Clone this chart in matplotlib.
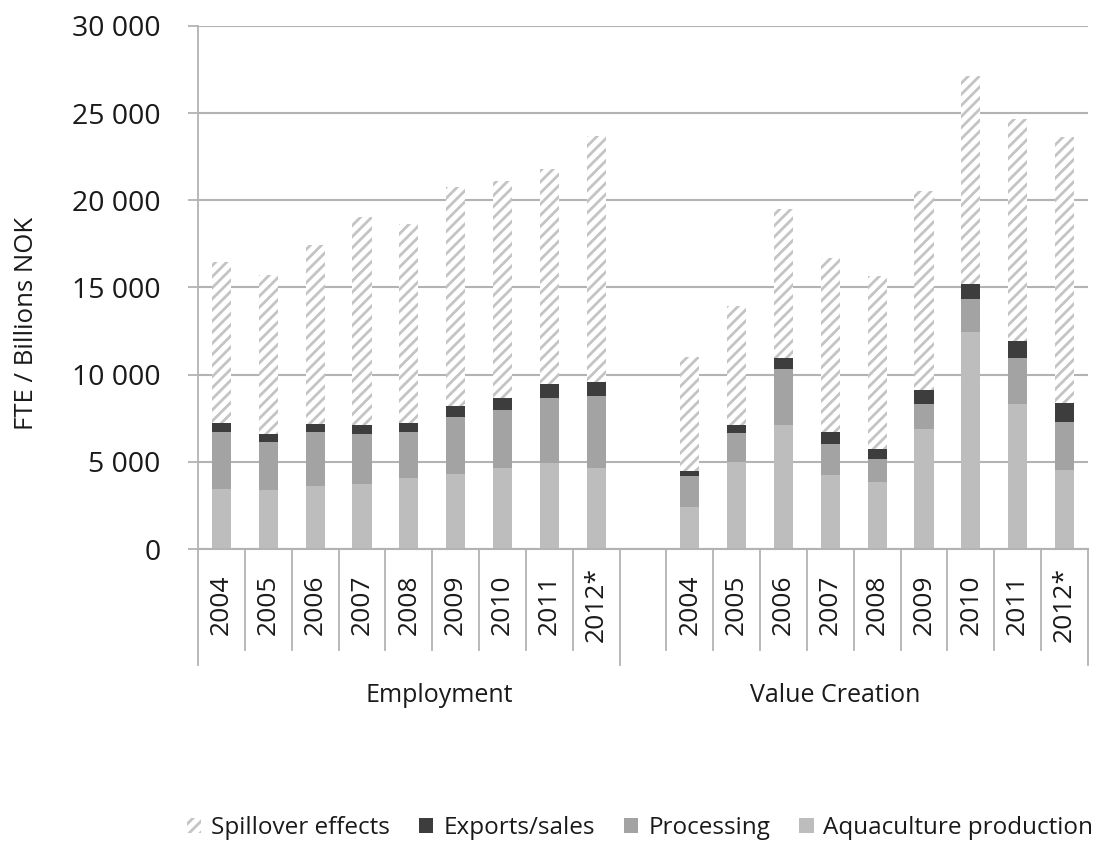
import matplotlib
matplotlib.use('Agg')
import matplotlib.pyplot as plt
import matplotlib.transforms as mtransforms
from matplotlib.patches import Patch

plt.rcParams['font.family'] = ['Open Sans', 'DejaVu Sans']
plt.rcParams['hatch.linewidth'] = 2.0

years = ['2004', '2005', '2006', '2007', '2008', '2009', '2010', '2011', '2012*']
groups = ['Employment', 'Value Creation']
series = ['Spillover effects', 'Exports/sales', 'Processing', 'Aquaculture production']

# Employment (FTE)
emp_aqua = [3470, 3400, 3590, 3720, 4050, 4280, 4640, 4920, 4640]
emp_proc = [3250, 2760, 3130, 2880, 2670, 3320, 3340, 3760, 4160]
emp_exp = [480, 440, 460, 500, 530, 590, 680, 810, 780]
emp_spill = [9260, 9100, 10260, 11960, 11390, 12560, 12450, 12290, 14130]

# Value creation (NOK)
val_aqua = [2420, 4980, 7100, 4260, 3820, 6910, 12450, 8340, 4520]
val_proc = [1740, 1660, 3240, 1750, 1370, 1430, 1910, 2600, 2770]
val_exp = [330, 460, 640, 710, 570, 800, 860, 990, 1070]
val_spill = [6540, 6840, 8540, 9950, 9900, 11410, 11920, 12730, 15270]

c_aqua = '#bdbdbd'
c_proc = '#a3a3a3'
c_exp = '#3d3d3d'
c_hatch = '#c4c4c4'
c_grid = '#b3b3b3'
c_text = '#1a1a1a'

fig = plt.figure(figsize=(11.03, 8.48), dpi=100)
ax = fig.add_axes([198 / 1103, 1 - 549 / 848, 890 / 1103, 523 / 848])

# x slots: 0..8 employment, 9 empty, 10..18 value creation
x_emp = list(range(9))
x_val = list(range(10, 19))
w = 0.41

for xs, aq, pr, ex, sp in [(x_emp, emp_aqua, emp_proc, emp_exp, emp_spill),
                           (x_val, val_aqua, val_proc, val_exp, val_spill)]:
    b1 = [a + p for a, p in zip(aq, pr)]
    b2 = [b + e for b, e in zip(b1, ex)]
    ax.bar(xs, aq, w, color=c_aqua, zorder=2)
    ax.bar(xs, pr, w, bottom=aq, color=c_proc, zorder=2)
    ax.bar(xs, ex, w, bottom=b1, color=c_exp, zorder=2)
    ax.bar(xs, sp, w, bottom=b2, color='white', edgecolor=c_hatch, hatch='///', linewidth=0, zorder=2)

ax.set_xlim(-0.5, 18.5)
ax.set_ylim(0, 30000)
ax.set_yticks(range(0, 30001, 5000))
ax.set_yticklabels(['{:,}'.format(v).replace(',', ' ') for v in range(0, 30001, 5000)], fontsize=20.5)
ax.tick_params(axis='y', length=7, color=c_grid, width=1.3, pad=20, labelcolor=c_text)
ax.set_xticks([])
ax.grid(axis='y', color=c_grid, linewidth=1.5, zorder=0)
for s in ['top', 'right', 'bottom']:
    ax.spines[s].set_visible(False)
ax.spines['left'].set_color(c_grid)
ax.spines['left'].set_linewidth(1.3)
ax.axhline(0, color=c_grid, linewidth=1.5, zorder=3, clip_on=False)

# category box below the axis
tr = mtransforms.blended_transform_factory(ax.transData, ax.transAxes)
short_y = -(650 - 549) / 523
long_y = -(665 - 549) / 523
for k in range(18):
    xb = k + 0.5
    bottom = long_y if xb == 8.5 else short_y
    ax.plot([xb, xb], [0, bottom], color=c_grid, lw=1.3, transform=tr, clip_on=False)
ax.plot([-0.5, -0.5], [0, long_y], color=c_grid, lw=1.3, transform=tr, clip_on=False)
ax.plot([18.5, 18.5], [0, long_y], color=c_grid, lw=1.3, transform=tr, clip_on=False)

lab_y = -(605 - 549) / 523
for xs in (x_emp, x_val):
    for x, yr in zip(xs, years):
        ax.text(x, lab_y, yr, rotation=90, ha='center', va='center', fontsize=19,
                color=c_text, transform=tr)

grp_y = -(695 - 549) / 523
ax.text(4.66, grp_y, groups[0], ha='center', va='center', fontsize=18, color=c_text, transform=tr)
ax.text(13.11, grp_y, groups[1], ha='center', va='center', fontsize=18, color=c_text, transform=tr)

fig.text(27 / 1103, 1 - 323 / 848, 'FTE / Billions NOK', rotation=90, ha='center', va='center',
         fontsize=18.5, color=c_text)

handles = [Patch(facecolor='white', edgecolor=c_hatch, hatch='///', linewidth=0),
           Patch(facecolor=c_exp), Patch(facecolor=c_proc), Patch(facecolor=c_aqua)]
fig.legend(handles, series, loc='center', bbox_to_anchor=(640 / 1103, 1 - 828 / 848), ncol=4,
           frameon=False, fontsize=17.5, handlelength=0.6, handleheight=0.6, handletextpad=0.4,
           columnspacing=1.2, labelcolor=c_text)

fig.savefig('out.png', dpi=100, facecolor='white')
